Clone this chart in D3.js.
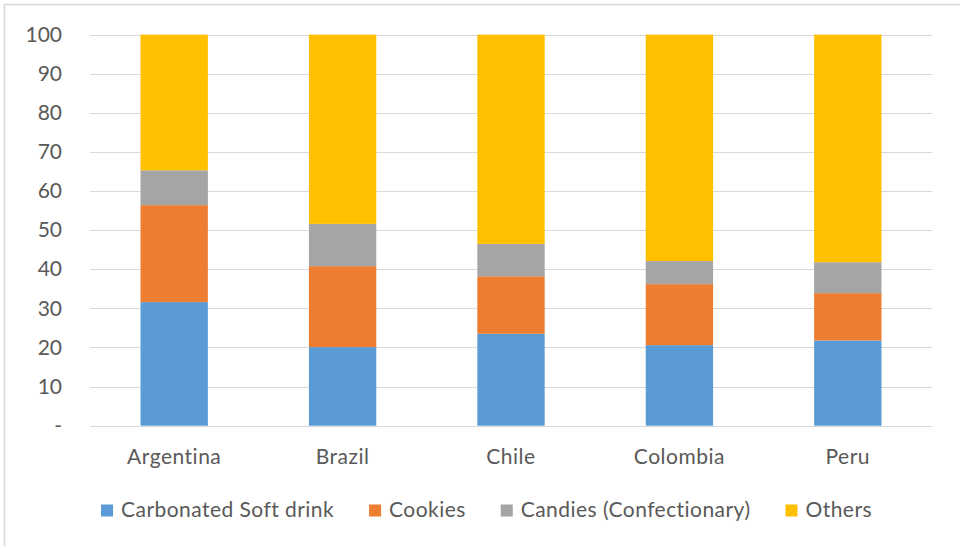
<!DOCTYPE html>
<html>
<head>
<meta charset="utf-8">
<script src="https://cdn.jsdelivr.net/npm/d3@7"></script>
<style>
  html, body { margin: 0; padding: 0; background: #fff; }
  svg { display: block; }
  text { font-family: Lato, "Open Sans", sans-serif; fill: #595959; }
</style>
</head>
<body>
<svg id="chart" width="960" height="546"></svg>
<script>
// Market share by product category (%)
const countries = ["Argentina", "Brazil", "Chile", "Colombia", "Peru"];
const seriesNames = ["Carbonated Soft drink", "Cookies", "Candies (Confectionary)", "Others"];
const softDrink = [31.6, 20.1, 23.5, 20.6, 21.8];
const cookies   = [24.8, 20.7, 14.7, 15.6, 12.1];
const candies   = [8.9, 10.8, 8.3, 5.9, 7.9];
const others    = [34.7, 48.4, 53.5, 57.9, 58.2];
const yTicks = [0, 10, 20, 30, 40, 50, 60, 70, 80, 90, 100];
const colors = ["#5B9BD5", "#ED7D31", "#A5A5A5", "#FFC000"];

const svg = d3.select("#chart");
const W = 960, H = 546;
const plot = { left: 90, right: 932, top: 34.6, bottom: 425.7 };

// chart frame
svg.append("rect")
  .attr("x", 4.5).attr("y", 4.5)
  .attr("width", W + 10).attr("height", H + 10)
  .attr("fill", "#fff").attr("stroke", "#d9d9d9").attr("stroke-width", 1.5);

const x = d3.scaleBand()
  .domain(countries)
  .range([plot.left, plot.right])
  .paddingInner(0.6)
  .paddingOuter(0.3);

const y = d3.scaleLinear()
  .domain([0, 100])
  .range([plot.bottom, plot.top]);

// gridlines
svg.append("g")
  .selectAll("line")
  .data(yTicks)
  .join("line")
  .attr("x1", plot.left).attr("x2", plot.right)
  .attr("y1", d => Math.round(y(d)) + 0.5)
  .attr("y2", d => Math.round(y(d)) + 0.5)
  .attr("stroke", "#d9d9d9").attr("stroke-width", 1);

// y axis labels
const yAxis = d3.axisLeft(y)
  .tickValues(yTicks)
  .tickSize(0)
  .tickPadding(0)
  .tickFormat(d => d === 0 ? "-" : d3.format("d")(d));
const yg = svg.append("g")
  .attr("transform", `translate(${62},0)`)
  .call(yAxis);
yg.select(".domain").remove();
yg.selectAll("text")
  .attr("font-size", 21)
  .attr("font-family", "Lato, sans-serif")
  .attr("fill", "#595959");

// stacked bars
const rows = countries.map((c, i) => ({
  country: c,
  "Carbonated Soft drink": softDrink[i],
  "Cookies": cookies[i],
  "Candies (Confectionary)": candies[i],
  "Others": others[i]
}));
const stacked = d3.stack().keys(seriesNames)(rows);

svg.append("g")
  .selectAll("g")
  .data(stacked)
  .join("g")
  .attr("fill", (d, i) => colors[i])
  .selectAll("rect")
  .data(d => d)
  .join("rect")
  .attr("x", d => x(d.data.country))
  .attr("width", x.bandwidth())
  .attr("y", d => y(d[1]))
  .attr("height", d => y(d[0]) - y(d[1]));

// x axis labels
const xAxis = d3.axisBottom(x).tickSize(0).tickPadding(0);
const xg = svg.append("g")
  .attr("transform", `translate(0,${plot.bottom})`)
  .call(xAxis);
xg.select(".domain").remove();
xg.selectAll("text")
  .attr("dy", 0)
  .attr("y", 38)
  .attr("font-size", 21)
  .attr("letter-spacing", 0.5)
  .attr("font-family", "Lato, sans-serif")
  .attr("fill", "#595959");

// legend
const legend = svg.append("g");
const items = legend.selectAll("g")
  .data(seriesNames)
  .join("g");
items.append("rect")
  .attr("width", 12).attr("height", 12)
  .attr("y", -12)
  .attr("fill", (d, i) => colors[i]);
items.append("text")
  .attr("x", 20)
  .attr("y", 0)
  .attr("font-size", 21)
  .attr("letter-spacing", 0.45)
  .text(d => d);

let offset = 0;
const gap = 35;
items.each(function () {
  const g = d3.select(this);
  g.attr("transform", `translate(${offset},0)`);
  offset += 20 + g.select("text").node().getComputedTextLength() + gap;
});
const totalW = offset - gap;
legend.attr("transform", `translate(${486.5 - totalW / 2},${516.5})`);
</script>
</body>
</html>
